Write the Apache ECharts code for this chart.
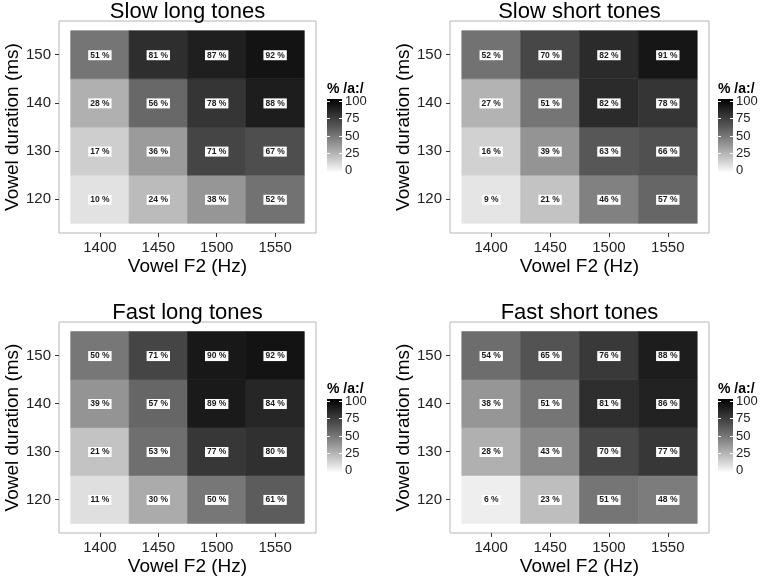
<!DOCTYPE html>
<html><head><meta charset="utf-8">
<script src="https://cdn.jsdelivr.net/npm/echarts@6/dist/echarts.min.js"></script>
<style>html,body{margin:0;padding:0;background:#fff}#c{width:761px;height:581px}</style>
</head><body><div id="c"></div>
<script>
// ---------------- data ----------------
const f2Hz = [1400, 1450, 1500, 1550];
const durationMs = [120, 130, 140, 150];
const panelTitles = ['Slow long tones', 'Slow short tones', 'Fast long tones', 'Fast short tones'];
// rows: duration 120,130,140,150 ; columns: F2 1400,1450,1500,1550 (percent /a:/ responses)
const slowLong  = [[10, 24, 38, 52], [17, 36, 71, 67], [28, 56, 78, 88], [51, 81, 87, 92]];
const slowShort = [[ 9, 21, 46, 57], [16, 39, 63, 66], [27, 51, 82, 78], [52, 70, 82, 91]];
const fastLong  = [[11, 30, 50, 61], [21, 53, 77, 80], [39, 57, 89, 84], [50, 71, 90, 92]];
const fastShort = [[ 6, 23, 51, 48], [28, 43, 70, 77], [38, 51, 81, 86], [54, 65, 76, 88]];
const legendTicks = [0, 25, 50, 75, 100];
const legendTitle = '% /a:/';
const xAxisTitle = 'Vowel F2 (Hz)';
const yAxisTitle = 'Vowel duration (ms)';

// ---------------- style / layout ----------------
const FONT = '"Liberation Sans", Arial, Helvetica, sans-serif';
const TILE_W = 50, TILE_H = 10;
// white -> black in CIELAB lightness (ggplot gradient), stops every 10 %
const grayLevels = [255, 226, 198, 171, 145, 119, 94, 71, 48, 24, 0];
const grayColors = grayLevels.map(g => 'rgb(' + g + ',' + g + ',' + g + ')');

const layouts = [
  {left: 59,  width: 257, top: 21,  height: 212, legLeft: 327, legTop: 99,  titleTop: 1,   legTitleTop: 82},
  {left: 450, width: 259, top: 21,  height: 212, legLeft: 718, legTop: 99,  titleTop: 1,   legTitleTop: 82},
  {left: 59,  width: 257, top: 322, height: 211, legLeft: 327, legTop: 399, titleTop: 302, legTitleTop: 382},
  {left: 450, width: 259, top: 322, height: 211, legLeft: 718, legTop: 399, titleTop: 302, legTitleTop: 382}
];
const panelValues = [slowLong, slowShort, fastLong, fastShort];

const xSpan = (f2Hz[f2Hz.length - 1] - f2Hz[0]) + TILE_W;
const ySpan = (durationMs[durationMs.length - 1] - durationMs[0]) + TILE_H;
const xMin = f2Hz[0] - TILE_W / 2 - 0.05 * xSpan;
const xMax = f2Hz[f2Hz.length - 1] + TILE_W / 2 + 0.05 * xSpan;
const yMin = durationMs[0] - TILE_H / 2 - 0.05 * ySpan;
const yMax = durationMs[durationMs.length - 1] + TILE_H / 2 + 0.05 * ySpan;

function renderTile(params, api) {
  const x = api.value(0), y = api.value(1), v = api.value(2);
  const p0 = api.coord([x - TILE_W / 2, y + TILE_H / 2]);
  const p1 = api.coord([x + TILE_W / 2, y - TILE_H / 2]);
  const c = api.coord([x, y]);
  const col = api.visual('color');
  return {
    type: 'group',
    children: [
      {type: 'rect', shape: {x: p0[0], y: p0[1], width: p1[0] - p0[0], height: p1[1] - p0[1]},
       style: {fill: col, stroke: col, lineWidth: 0.6}},
      {type: 'text', x: c[0], y: c[1] + 0.5,
       style: {text: v + ' %', align: 'center', verticalAlign: 'middle', fill: '#1a1a1a',
               font: 'bold 8.5px ' + FONT, backgroundColor: '#ffffff', padding: [1, 2, 0, 2]}}
    ]
  };
}

function renderColorbar(params, api) {
  const cs = params.coordSys;
  const stops = grayColors.map((c, i) => ({offset: i / (grayColors.length - 1), color: c}));
  return {
    type: 'rect',
    shape: {x: cs.x, y: cs.y, width: cs.width, height: cs.height},
    style: {fill: new echarts.graphic.LinearGradient(0, 1, 0, 0, stops)}
  };
}

const grid = [], xAxis = [], yAxis = [], series = [], title = [];
layouts.forEach((L, i) => {
  grid.push({left: L.left, top: L.top, width: L.width, height: L.height, show: true,
             borderColor: '#b5b5b5', borderWidth: 1, backgroundColor: '#fff', outerBoundsMode: 'none'});
  xAxis.push({gridIndex: i, type: 'value', min: xMin, max: xMax,
    axisLine: {show: false}, splitLine: {show: false},
    axisTick: {show: true, length: 4, lineStyle: {color: '#333'}, customValues: f2Hz},
    axisLabel: {show: true, customValues: f2Hz, fontSize: 15, color: '#222', margin: 7, fontFamily: FONT,
                formatter: v => String(v)},
    name: xAxisTitle, nameLocation: 'middle', nameGap: 24,
    nameTextStyle: {fontSize: 19, color: '#000', fontFamily: FONT}});
  yAxis.push({gridIndex: i, type: 'value', min: yMin, max: yMax,
    axisLine: {show: false}, splitLine: {show: false},
    axisTick: {show: true, length: 4, lineStyle: {color: '#333'}, customValues: durationMs},
    axisLabel: {show: true, customValues: durationMs, fontSize: 15, color: '#222', margin: 8, fontFamily: FONT,
                formatter: v => String(v)},
    name: yAxisTitle, nameLocation: 'middle', nameGap: 37,
    nameTextStyle: {fontSize: 19, color: '#000', fontFamily: FONT}});
  const data = [];
  durationMs.forEach((d, r) => f2Hz.forEach((f, c) => data.push([f, d, panelValues[i][r][c]])));
  series.push({type: 'custom', xAxisIndex: i, yAxisIndex: i, renderItem: renderTile, data: data,
               clip: true, silent: true, encode: {x: 0, y: 1}});
  title.push({text: panelTitles[i], left: L.left + L.width / 2, top: L.titleTop, textAlign: 'center', padding: 0,
              textStyle: {fontSize: 22, fontWeight: 'normal', color: '#000', fontFamily: FONT}});
  title.push({text: legendTitle, left: L.legLeft, top: L.legTitleTop, padding: 0,
              textStyle: {fontSize: 14, fontWeight: 'bold', color: '#000', fontFamily: FONT}});
});

// colour-bar legends: one small grid each
layouts.forEach((L, i) => {
  const gi = grid.length;
  grid.push({left: L.legLeft, top: L.legTop, width: 15, height: 74, show: false, outerBoundsMode: 'none'});
  xAxis.push({gridIndex: gi, type: 'value', min: 0, max: 1, show: false});
  const lo = -3, hi = 103;
  const base = {gridIndex: gi, type: 'value', min: lo, max: hi, z: 10,
    axisLine: {show: false}, splitLine: {show: false},
    axisTick: {show: true, inside: true, length: 3, lineStyle: {color: '#fff', width: 1}, customValues: legendTicks}};
  yAxis.push(Object.assign({}, base, {position: 'left', axisLabel: {show: false}}));
  yAxis.push(Object.assign({}, base, {position: 'right',
    axisLabel: {show: true, customValues: legendTicks, fontSize: 13, color: '#222', margin: 3, fontFamily: FONT}}));
  series.push({type: 'custom', xAxisIndex: gi, yAxisIndex: yAxis.length - 2, renderItem: renderColorbar,
               data: [[0, 0]], silent: true, z: 1});
});

const chart = echarts.init(document.getElementById('c'), null, {renderer: 'canvas'});
chart.setOption({
  backgroundColor: '#fff',
  animation: false,
  textStyle: {fontFamily: FONT},
  title: title,
  grid: grid,
  xAxis: xAxis,
  yAxis: yAxis,
  visualMap: [{type: 'continuous', show: false, min: 0, max: 100, dimension: 2,
               seriesIndex: [0, 1, 2, 3], inRange: {color: grayColors}}],
  series: series
});
</script>
</body></html>
